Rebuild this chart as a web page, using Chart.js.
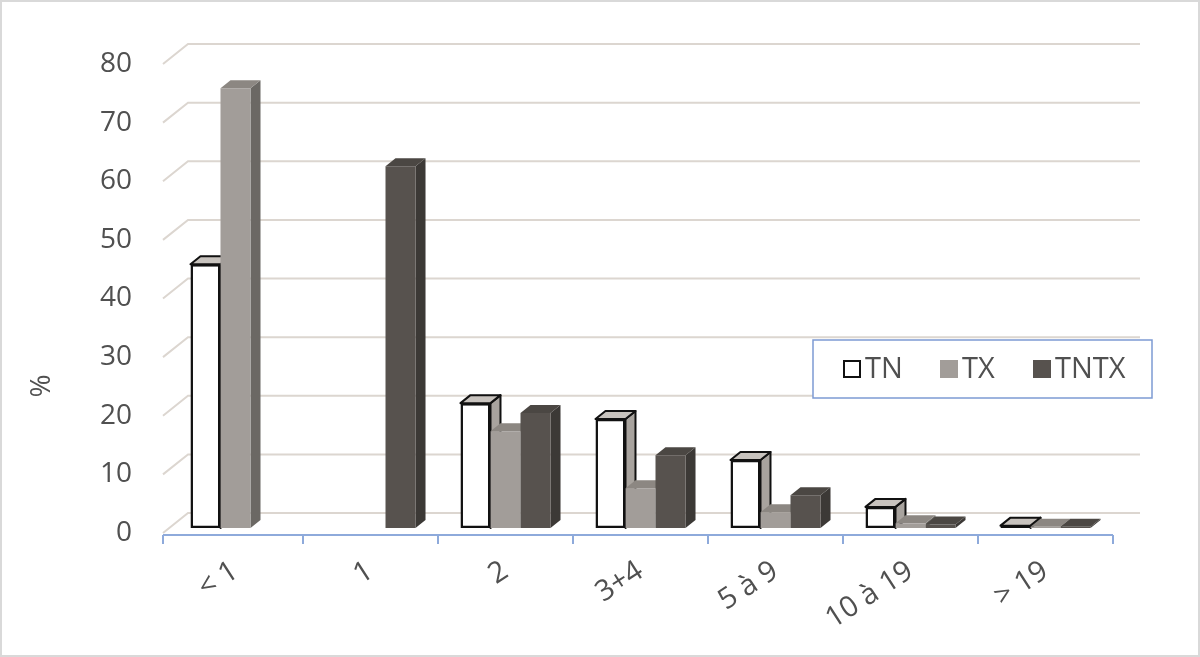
<!DOCTYPE html>
<html>
<head>
<meta charset="utf-8">
<script src="https://cdn.jsdelivr.net/npm/chart.js"></script>
<style>
  html, body { margin: 0; padding: 0; background: #fff; }
  #wrap { width: 1200px; height: 657px; position: relative; }
</style>
</head>
<body>
<div id="wrap"><canvas id="chart" width="1200" height="657"></canvas></div>
<script>
const categories = ['< 1', '1', '2', '3+4', '5 à 9', '10 à 19', '> 19'];
const tnValues = [45, null, 21.3, 18.6, 11.6, 3.6, 0.4];
const txValues = [75, null, 16.5, 6.8, 2.7, 0.8, 0.2];
const tntxValues = [null, 61.7, 19.6, 12.4, 5.6, 0.6, 0.2];
const yTicks = [0, 10, 20, 30, 40, 50, 60, 70, 80];
const yTitle = '%';

const textColor = '#505050';
const font = '"Open Sans", "DejaVu Sans", sans-serif';

// front / side / top colours for each series
const faces = [
  { front: '#ffffff', side: '#a8a39e', top: '#c8c3be', line: '#111111' },
  { front: '#a29d99', side: '#6b6864', top: '#8c8782', line: null },
  { front: '#57524e', side: '#3c3936', top: '#4b4743', line: null }
];
const DX = 10, DY = 8;

const depthPlugin = {
  id: 'depth',
  beforeDatasetsDraw(chart) {
    const ctx = chart.ctx;
    const { left, right } = chart.chartArea;
    const y = chart.scales.y;
    // slanted gridlines (floor + back wall look)
    ctx.save();
    ctx.strokeStyle = '#dcd6d0';
    ctx.lineWidth = 2;
    yTicks.forEach(v => {
      const py = y.getPixelForValue(v);
      ctx.beginPath();
      ctx.moveTo(left - 5, py + 5);
      ctx.lineTo(left + 20, py - 15);
      ctx.lineTo(right + 27, py - 15);
      ctx.stroke();
    });
    ctx.restore();

    // sides and tops, category by category, left to right
    const metas = chart.data.datasets.map((d, i) => chart.getDatasetMeta(i));
    for (let c = 0; c < categories.length; c++) {
      metas.forEach((meta, di) => {
        const el = meta.data[c];
        const v = chart.data.datasets[di].data[c];
        if (!el || v == null) return;
        const f = faces[di];
        const xl = el.x - el.width / 2, xr = el.x + el.width / 2;
        const top = el.y, base = el.base;
        ctx.save();
        ctx.lineJoin = 'round';
        // side
        ctx.beginPath();
        ctx.moveTo(xr, top);
        ctx.lineTo(xr + DX, top - DY);
        ctx.lineTo(xr + DX, base - DY);
        ctx.lineTo(xr, base);
        ctx.closePath();
        ctx.fillStyle = f.side;
        ctx.fill();
        if (f.line) { ctx.strokeStyle = f.line; ctx.lineWidth = 2; ctx.stroke(); }
        // top
        ctx.beginPath();
        ctx.moveTo(xl, top);
        ctx.lineTo(xl + DX, top - DY);
        ctx.lineTo(xr + DX, top - DY);
        ctx.lineTo(xr, top);
        ctx.closePath();
        ctx.fillStyle = f.top;
        ctx.fill();
        if (f.line) { ctx.strokeStyle = f.line; ctx.lineWidth = 2; ctx.stroke(); }
        ctx.restore();
      });
    }
  },
  afterDraw(chart) {
    const ctx = chart.ctx;
    const { left, right, bottom } = chart.chartArea;
    ctx.save();
    // category axis
    ctx.strokeStyle = '#8eaadb';
    ctx.lineWidth = 2;
    const ay = bottom + 7;
    ctx.beginPath();
    ctx.moveTo(left - 5, ay);
    ctx.lineTo(right, ay);
    const step = (right - left) / categories.length;
    for (let i = 0; i <= categories.length; i++) {
      const tx = i === 0 ? left - 5 : left + i * step;
      ctx.moveTo(tx, ay);
      ctx.lineTo(tx, ay + 9);
    }
    ctx.stroke();

    // y title
    ctx.save();
    ctx.translate(42, 386);
    ctx.rotate(-Math.PI / 2);
    ctx.font = '28px ' + font;
    ctx.fillStyle = textColor;
    ctx.textAlign = 'center';
    ctx.textBaseline = 'middle';
    ctx.fillText(yTitle, 0, 0);
    ctx.restore();

    // legend box
    const bx = 813, by = 340, bw = 339, bh = 58;
    ctx.fillStyle = '#ffffff';
    ctx.fillRect(bx, by, bw, bh);
    ctx.strokeStyle = '#7d9bd3';
    ctx.lineWidth = 1.5;
    ctx.strokeRect(bx, by, bw, bh);
    const items = [
      { x: 843, label: chart.data.datasets[0].label },
      { x: 940, label: chart.data.datasets[1].label },
      { x: 1033, label: chart.data.datasets[2].label }
    ];
    ctx.font = '29px ' + font;
    ctx.textBaseline = 'middle';
    items.forEach((it, i) => {
      ctx.fillStyle = faces[i].front;
      ctx.fillRect(it.x, by + 20, 18, 18);
      if (i === 0) {
        ctx.strokeStyle = '#111';
        ctx.lineWidth = 2;
        ctx.strokeRect(it.x + 1, by + 21, 16, 16);
      }
      ctx.fillStyle = textColor;
      ctx.fillText(it.label, it.x + 22, by + 30);
    });

    // outer frame
    ctx.strokeStyle = '#d9d9d9';
    ctx.lineWidth = 2;
    ctx.strokeRect(1, 1, 1198, 655);
    ctx.restore();
  }
};

new Chart(document.getElementById('chart'), {
  type: 'bar',
  data: {
    labels: categories,
    datasets: [
      { label: 'TN', data: tnValues, backgroundColor: faces[0].front, borderColor: '#111', borderWidth: 2.5, borderSkipped: false },
      { label: 'TX', data: txValues, backgroundColor: faces[1].front, borderWidth: 0 },
      { label: 'TNTX', data: tntxValues, backgroundColor: faces[2].front, borderWidth: 0 }
    ]
  },
  options: {
    responsive: false,
    animation: false,
    layout: { padding: { left: 28, right: 87, top: 59, bottom: 0 } },
    datasets: { bar: { categoryPercentage: 0.667, barPercentage: 1 } },
    plugins: { legend: { display: false }, tooltip: { enabled: false } },
    scales: {
      x: {
        grid: { display: false, drawTicks: false },
        border: { display: false },
        ticks: { color: textColor, font: { family: font, size: 29 }, minRotation: 33, maxRotation: 33, padding: 26 },
        afterFit(scale) { scale.height = 129; }
      },
      y: {
        min: 0, max: 80,
        grid: { display: false, drawTicks: false },
        border: { display: false },
        ticks: { stepSize: 10, color: textColor, font: { family: font, size: 28 }, padding: 36, labelOffset: 5 },
        title: { display: false },
        afterFit(scale) { scale.width = 140; }
      }
    }
  },
  plugins: [depthPlugin]
});
</script>
</body>
</html>
